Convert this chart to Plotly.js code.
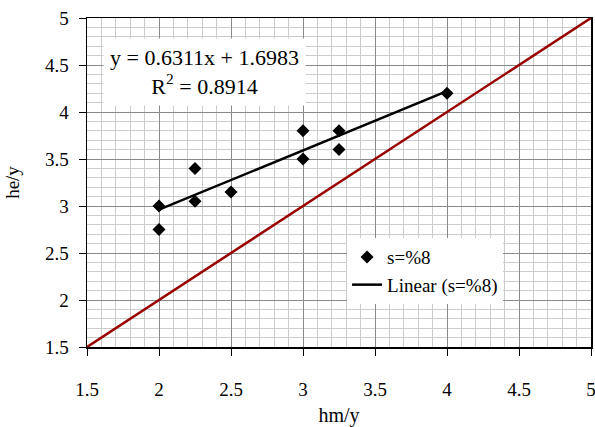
<!DOCTYPE html>
<html><head><meta charset="utf-8">
<script src="https://cdn.plot.ly/plotly-3.0.1.min.js"></script>
<style>html,body{margin:0;padding:0;background:#fff}#c{width:595px;height:427px}</style>
</head><body><div id="c"></div>
<script>
const hm = [2, 2, 2.25, 2.25, 2.5, 3, 3, 3.25, 3.25, 4];
const he = [3.0, 2.75, 3.4, 3.05, 3.15, 3.8, 3.5, 3.8, 3.6, 4.2];
const slope = 0.6311;
const intercept = 1.6983;
const r2 = 0.8914;
const fitX = [2, 4];
const refX = [1.5, 5];
const seriesName = 's=%8';

const fitY = fitX.map(x => slope * x + intercept);
const font = 'Liberation Serif, Times New Roman, serif';

const traces = [
  {x: refX, y: refX, mode: 'lines', line: {color: '#990000', width: 2.5}, showlegend: false, hoverinfo: 'skip'},
  {x: hm, y: he, mode: 'markers', name: seriesName, marker: {symbol: 'diamond', color: '#000', size: 10}},
  {x: fitX, y: fitY, mode: 'lines', name: 'Linear (' + seriesName + ')', line: {color: '#000', width: 2.5}}
];

const axisBase = {
  range: [1.5, 5], dtick: 0.5, tick0: 1.5,
  showline: true, linecolor: '#000', linewidth: 1.5, mirror: true,
  ticks: 'outside', ticklen: 7, tickcolor: '#000',
  showgrid: true, gridcolor: '#8a8a8a', gridwidth: 1,
  zeroline: false, ticklabeloverflow: 'allow',
  minor: {dtick: 0.1, showgrid: true, gridcolor: '#cccccc', gridwidth: 1},
  tickfont: {family: font, size: 19, color: '#000'}
};

const layout = {
  width: 595, height: 427,
  margin: {l: 87, r: 4, t: 18, b: 80},
  paper_bgcolor: '#fff', plot_bgcolor: '#fff',
  font: {family: font, color: '#000'},
  xaxis: Object.assign({}, axisBase, {ticklabelstandoff: 18, title: {text: 'hm/y', font: {family: font, size: 20}, standoff: 12}}),
  yaxis: Object.assign({}, axisBase, {ticklabelstandoff: 6, title: {text: 'he/y', font: {family: font, size: 19}, standoff: 20}}),
  legend: {x: 0.516, y: 0.331, xanchor: 'left', yanchor: 'top', bgcolor: '#fff', borderwidth: 0,
           font: {family: font, size: 19, color: '#000'}, tracegroupgap: 4},
  annotations: [{
    xref: 'paper', yref: 'paper', x: 0.234, y: 0.837, xanchor: 'center', yanchor: 'middle',
    text: 'y = ' + slope + 'x + ' + intercept + '<br>R<sup>2</sup> = ' + r2,
    showarrow: false, align: 'center', bgcolor: '#fff', borderpad: 6,
    font: {family: font, size: 22, color: '#000'}
  }],
  showlegend: true
};

Plotly.newPlot('c', traces, layout, {displayModeBar: false, staticPlot: true});
</script></body></html>
